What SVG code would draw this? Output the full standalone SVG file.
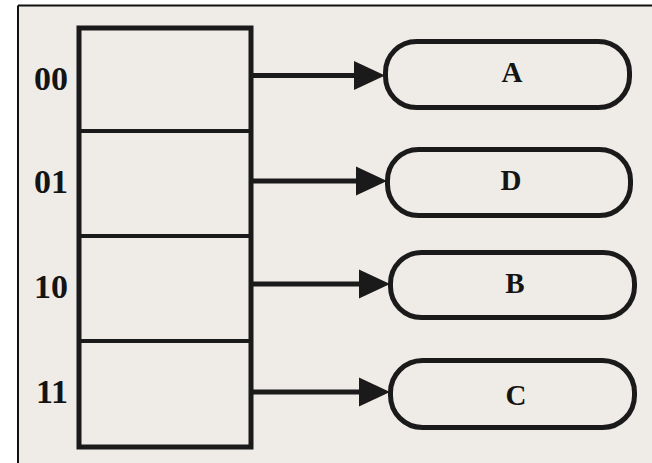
<svg xmlns="http://www.w3.org/2000/svg" width="652" height="463" viewBox="0 0 652 463">
  <style>
    .ink { stroke: #1b1a1a; fill: none; }
    .cell { stroke-width: 5; }
    .div { stroke-width: 4; }
    .pill { stroke-width: 5; fill: none; stroke: #1b1a1a; }
    .wire { stroke: #1b1a1a; stroke-width: 5; fill: none; }
    .head { fill: #1b1a1a; }
    .idx { font-family: "Liberation Serif", "Times New Roman", serif; font-weight: bold; font-size: 34px; fill: #141414; text-anchor: end; }
    .lbl { font-family: "Liberation Serif", "Times New Roman", serif; font-weight: bold; font-size: 29px; fill: #141414; text-anchor: middle; }
  </style>
  <defs>
    <polygon id="tip" points="0,0 -31,-14.5 -31,14.5"/>
  </defs>

  <!-- page and frame -->
  <rect x="0" y="0" width="652" height="463" fill="#ffffff"/>
  <rect x="18" y="5.5" width="634" height="457.5" fill="#efebe6"/>
  <line x1="18" y1="5.5" x2="652" y2="5.5" stroke="#111" stroke-width="2"/>
  <line x1="18" y1="5.5" x2="18" y2="463" stroke="#111" stroke-width="2"/>

  <!-- page table: four entries -->
  <g id="table">
    <rect class="ink cell" x="79" y="28" width="172" height="419"/>
    <line class="ink div" x1="79" y1="131" x2="251" y2="131"/>
    <line class="ink div" x1="79" y1="236" x2="251" y2="236"/>
    <line class="ink div" x1="79" y1="341" x2="251" y2="341"/>
    <text class="idx" x="68" y="90">00</text>
    <text class="idx" x="68" y="193">01</text>
    <text class="idx" x="68" y="298">10</text>
    <text class="idx" x="68" y="403">11</text>
  </g>

  <!-- pages -->
  <g id="page-A">
    <rect class="pill" x="385.5" y="41.5" width="244" height="66" rx="31"/>
    <text class="lbl" x="512" y="82">A</text>
  </g>
  <g id="page-D">
    <rect class="pill" x="387.5" y="149.5" width="243" height="66" rx="31"/>
    <text class="lbl" x="511" y="190">D</text>
  </g>
  <g id="page-B">
    <rect class="pill" x="390.5" y="252.5" width="244" height="65" rx="31"/>
    <text class="lbl" x="515" y="293">B</text>
  </g>
  <g id="page-C">
    <rect class="pill" x="390.5" y="360.5" width="244" height="67" rx="32"/>
    <text class="lbl" x="516" y="405">C</text>
  </g>

  <!-- pointers from entries to pages -->
  <g id="connectors">
    <line class="wire" x1="251" y1="75.5" x2="356" y2="75.5"/>
    <use href="#tip" class="head" x="385" y="75.5"/>
    <line class="wire" x1="251" y1="181" x2="358" y2="181"/>
    <use href="#tip" class="head" x="387" y="181"/>
    <line class="wire" x1="251" y1="284" x2="361" y2="284"/>
    <use href="#tip" class="head" x="390" y="284"/>
    <line class="wire" x1="251" y1="392" x2="361" y2="392"/>
    <use href="#tip" class="head" x="390" y="392"/>
  </g>
</svg>
